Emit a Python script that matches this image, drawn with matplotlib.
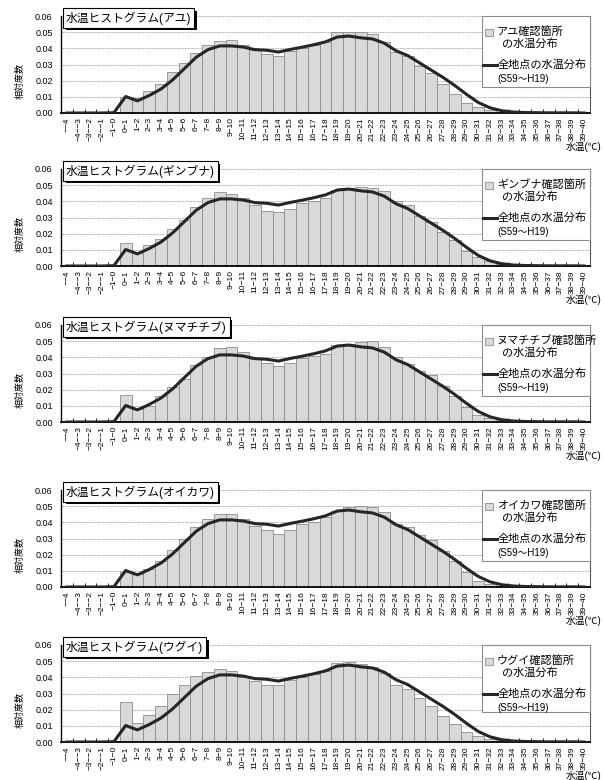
import matplotlib
matplotlib.use("Agg")
import matplotlib.pyplot as plt
from matplotlib.patches import Rectangle
from matplotlib.lines import Line2D

plt.rcParams['font.family'] = ['Liberation Sans', 'Noto Sans CJK JP']

# Temperature classes (°C)
bins = ["−−4", "−4−−3", "−3−−2", "−2−−1", "−1−0",
        "0−1", "1−2", "2−3", "3−4", "4−5", "5−6", "6−7", "7−8", "8−9", "9−10",
        "10−11", "11−12", "12−13", "13−14", "14−15", "15−16", "16−17", "17−18",
        "18−19", "19−20", "20−21", "21−22", "22−23", "23−24", "24−25", "25−26",
        "26−27", "27−28", "28−29", "29−30", "30−31", "31−32", "32−33", "33−34",
        "34−35", "35−36", "36−37", "37−38", "38−39", "39−40"]

# Relative frequency at all survey points (S59~H19)
all_sites = [0, 0, 0, 0, 0.0002, 0.0102, 0.0075, 0.0108, 0.0148, 0.0205, 0.0275,
             0.0345, 0.0392, 0.0415, 0.0415, 0.0408, 0.0392, 0.0388, 0.0377, 0.0393,
             0.0407, 0.0422, 0.0440, 0.0470, 0.0476, 0.0465, 0.0458, 0.0432, 0.0385,
             0.0355, 0.0310, 0.0265, 0.0220, 0.0170, 0.0115, 0.0065, 0.0032, 0.0014,
             0.0006, 0.0003, 0.0002, 0.0001, 0.0001, 0.0001, 0.0]

# Relative frequency at points where each species was found
ayu = [0, 0, 0, 0, 0.0003, 0.0098, 0.0090, 0.0135, 0.0178, 0.0254, 0.0307,
       0.0369, 0.0418, 0.0443, 0.0449, 0.0418, 0.0390, 0.0365, 0.0352, 0.0383,
       0.0400, 0.0420, 0.0440, 0.0498, 0.0500, 0.0498, 0.0488, 0.0440, 0.0380,
       0.0350, 0.0290, 0.0250, 0.0178, 0.0120, 0.0060, 0.0037, 0.0020, 0.0008,
       0.0004, 0.0002, 0, 0, 0, 0, 0]
ginbuna = [0, 0, 0, 0, 0.0003, 0.0140, 0.0078, 0.0127, 0.0165, 0.0228, 0.0285,
           0.0362, 0.0418, 0.0455, 0.0448, 0.0418, 0.0375, 0.0343, 0.0333, 0.0350,
           0.0388, 0.0402, 0.0418, 0.0473, 0.0480, 0.0490, 0.0485, 0.0465, 0.0402,
           0.0380, 0.0312, 0.0270, 0.0210, 0.0162, 0.0090, 0.0055, 0.0028, 0.0010,
           0.0005, 0.0002, 0, 0, 0, 0, 0]
numachichibu = [0, 0, 0, 0, 0.0003, 0.0170, 0.0080, 0.0100, 0.0160, 0.0217, 0.0267,
                0.0350, 0.0400, 0.0455, 0.0462, 0.0435, 0.0392, 0.0363, 0.0346, 0.0368,
                0.0396, 0.0408, 0.0418, 0.0475, 0.0480, 0.0493, 0.0498, 0.0465, 0.0405,
                0.0360, 0.0318, 0.0288, 0.0220, 0.0160, 0.0092, 0.0045, 0.0022, 0.0010,
                0.0004, 0.0002, 0, 0, 0, 0, 0]
oikawa = [0, 0, 0, 0, 0.0003, 0.0095, 0.0078, 0.0110, 0.0160, 0.0230, 0.0300,
          0.0370, 0.0420, 0.0450, 0.0450, 0.0418, 0.0378, 0.0350, 0.0330, 0.0350,
          0.0390, 0.0402, 0.0432, 0.0472, 0.0492, 0.0500, 0.0492, 0.0465, 0.0392,
          0.0372, 0.0320, 0.0288, 0.0220, 0.0160, 0.0090, 0.0040, 0.0020, 0.0008,
          0.0004, 0.0002, 0, 0, 0, 0, 0]
ugui = [0, 0, 0, 0, 0.0005, 0.0250, 0.0120, 0.0165, 0.0220, 0.0300, 0.0355,
        0.0410, 0.0432, 0.0452, 0.0440, 0.0405, 0.0378, 0.0355, 0.0350, 0.0382,
        0.0405, 0.0422, 0.0440, 0.0490, 0.0495, 0.0480, 0.0465, 0.0425, 0.0355,
        0.0325, 0.0270, 0.0220, 0.0160, 0.0110, 0.0060, 0.0037, 0.0020, 0.0010,
        0.0004, 0.0002, 0, 0, 0, 0, 0]

species = ["アユ", "ギンブナ", "ヌマチチブ", "オイカワ", "ウグイ"]
species_values = [ayu, ginbuna, numachichibu, oikawa, ugui]
y_ticks = [0.00, 0.01, 0.02, 0.03, 0.04, 0.05, 0.06]

W, H = 605, 780
fig = plt.figure(figsize=(W / 100, H / 100), dpi=100)
fig.patch.set_facecolor("white")


def fx(px):
    return px / W


def fy(py):
    return 1 - py / H


panel_tops = [16, 169, 325, 490, 645]
legend_heights = [71, 71, 71, 71, 67]
ax_left, ax_width, ax_height = 61, 529, 97
x = list(range(len(bins)))
titles = []

for name, vals, top, lh in zip(species, species_values, panel_tops, legend_heights):
    ax = fig.add_axes([fx(ax_left), fy(top + ax_height), ax_width / W, ax_height / H])
    ax.bar(x, vals, width=1.0, color="#d9d9d9", edgecolor="#8c8c8c",
           linewidth=0.6, zorder=2)
    ax.plot(x, all_sites, color="#262626", linewidth=2.2, zorder=3,
            solid_joinstyle="round")
    ax.set_xlim(-0.5, len(bins) - 0.5)
    ax.set_ylim(0, 0.06)
    ax.set_yticks(y_ticks)
    ax.set_yticklabels([f"{v:.2f}" for v in y_ticks], fontsize=6.5)
    for v in y_ticks[1:]:
        ax.axhline(v, color="#8c8c8c", linewidth=0.6, linestyle=(0, (1, 1)), zorder=1)
    ax.set_xticks(x)
    ax.set_xticklabels(bins, rotation=90, fontsize=6)
    ax.set_xticks([i - 0.5 for i in range(len(bins) + 1)], minor=True)
    ax.tick_params(axis="x", which="major", length=0, pad=3)
    ax.tick_params(axis="x", which="minor", length=3, direction="in", width=0.6)
    ax.tick_params(axis="y", length=0, pad=6)
    ax.spines["top"].set_visible(False)
    ax.spines["left"].set_linewidth(1.0)
    ax.spines["bottom"].set_linewidth(1.3)
    ax.spines["right"].set_color("#555555")
    ax.spines["right"].set_linewidth(0.8)

    # y label
    fig.text(fx(20), fy(top + ax_height * 0.67), "相対度数", rotation=90,
             ha="center", va="center", fontsize=6.5)
    # x label
    fig.text(fx(601), fy(top + ax_height + 34), "水温(℃)", ha="right",
             va="center", fontsize=7)

    # title box (drop shadow added after layout is known)
    t = fig.text(fx(66), fy(top + 2), f"水温ヒストグラム({name})", fontsize=8.5,
                 ha="left", va="center", color="black",
                 bbox=dict(boxstyle="square,pad=0.25", fc="white", ec="black", lw=0.8),
                 zorder=6)
    titles.append(t)

    # legend box
    lx0, lx1 = 482, 590
    ly0, ly1 = top, top + lh
    fig.patches.append(Rectangle((fx(lx0), fy(ly1)), (lx1 - lx0) / W, (ly1 - ly0) / H,
                                 transform=fig.transFigure, fc="white",
                                 ec="#8c8c8c", lw=0.8, zorder=4))
    fig.patches.append(Rectangle((fx(485), fy(top + 20)), 8 / W, 7 / H,
                                 transform=fig.transFigure, fc="#d9d9d9",
                                 ec="#8c8c8c", lw=0.6, zorder=5))
    fig.lines.append(Line2D([fx(483), fx(497)], [fy(top + 49), fy(top + 49)],
                            transform=fig.transFigure, color="#262626", lw=2.2,
                            zorder=5))
    fig.text(fx(497), fy(top + 16), f"{name}確認箇所", fontsize=8, ha="left",
             va="center", zorder=6)
    fig.text(fx(502), fy(top + 28), "の水温分布", fontsize=8, ha="left",
             va="center", zorder=6)
    fig.text(fx(498), fy(top + 49), "全地点の水温分布", fontsize=8, ha="left",
             va="center", zorder=6)
    fig.text(fx(497), fy(top + 63), "(S59〜H19)", fontsize=7, ha="left",
             va="center", zorder=6)

# black drop shadow behind each title box
fig.canvas.draw()
renderer = fig.canvas.get_renderer()
for t in titles:
    bb = t.get_bbox_patch().get_window_extent(renderer)
    fig.patches.append(Rectangle((bb.x0 + 2.5, bb.y0 - 2.5), bb.width, bb.height,
                                 transform=None, fc="black", ec="black",
                                 lw=0, zorder=5))

fig.savefig("out.png", dpi=100, facecolor="white")
